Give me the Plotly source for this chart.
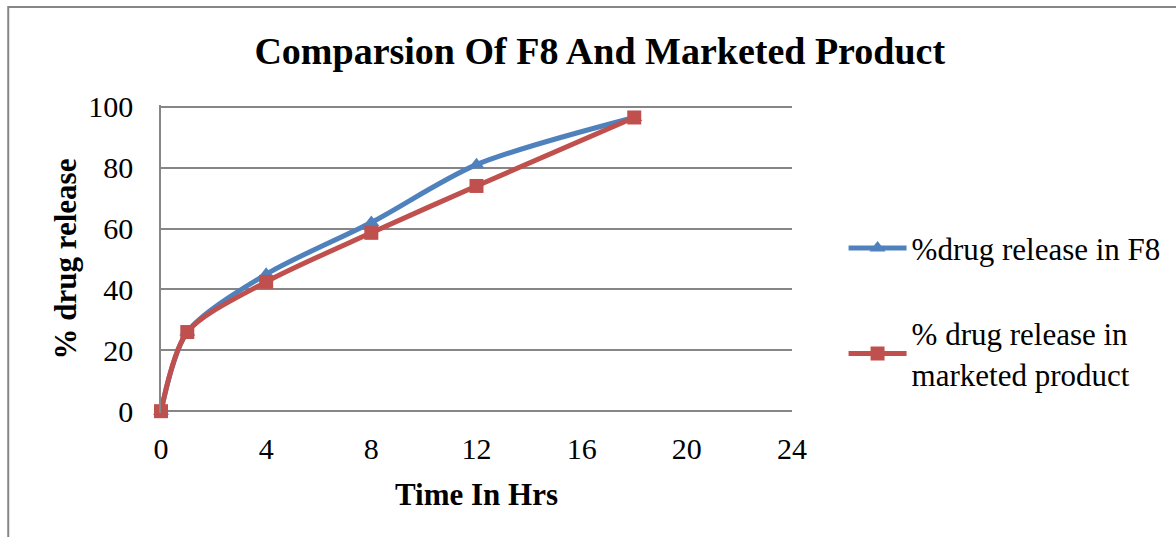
import plotly.graph_objects as go

# Dissolution time points (hours) and cumulative % drug release
time_hrs = [0, 1, 4, 8, 12, 18]
release_f8 = [0, 26, 45, 62, 81, 96.5]
release_marketed = [0, 26, 42.5, 58.6, 74, 96.5]

x_ticks = [0, 4, 8, 12, 16, 20, 24]
y_ticks = [0, 20, 40, 60, 80, 100]

BLUE = "#4F81BD"
RED = "#C0504D"
GRID = "#868686"
SERIF = "Liberation Serif, Times New Roman, serif"

fig = go.Figure()
fig.add_trace(go.Scatter(
    x=time_hrs, y=release_f8, mode="lines+markers",
    name="%drug release in F8", legendgroup="f8", cliponaxis=False,
    line=dict(color=BLUE, width=5, shape="spline", smoothing=0.8),
    marker=dict(symbol="triangle-up", size=14, color=BLUE),
))
fig.add_trace(go.Scatter(
    x=time_hrs, y=release_marketed, mode="lines+markers",
    name="% drug release in<br>marketed product", legendgroup="mk", cliponaxis=False,
    line=dict(color=RED, width=5, shape="spline", smoothing=0.8),
    marker=dict(symbol="square", size=14, color=RED),
))

fig.update_layout(
    width=1176, height=537,
    margin=dict(l=161, r=383, t=105, b=124),
    paper_bgcolor="white", plot_bgcolor="white",
    font=dict(family=SERIF, size=30, color="black"),
    title=dict(
        text="<b>Comparsion Of F8 And Marketed Product</b>",
        font=dict(family=SERIF, size=38, color="black"),
        x=0.51, xanchor="center", y=0.905, yanchor="middle",
    ),
    xaxis=dict(
        range=[0, 24], tickvals=x_ticks, showgrid=False, zeroline=False,
        showline=False, ticks="", ticklabelstandoff=15,
        tickfont=dict(size=30),
        title=dict(text="<b>Time In Hrs</b>", font=dict(size=31), standoff=19),
    ),
    yaxis=dict(
        range=[-0.6, 100.6], tickvals=y_ticks, showgrid=True, gridcolor=GRID,
        gridwidth=1.5, zeroline=False, showline=True, linecolor=GRID,
        linewidth=1.5, ticks="", ticklabelstandoff=20,
        tickfont=dict(size=30),
        title=dict(text="<b>% drug release</b>", font=dict(size=31), standoff=2),
    ),
    legend=dict(
        x=1.08, xanchor="left", y=0.622, yanchor="top",
        font=dict(family=SERIF, size=31), itemwidth=58,
        tracegroupgap=42, bgcolor="rgba(0,0,0,0)",
    ),
    showlegend=True,
)

# Outer chart frame
fig.add_shape(
    type="rect", xref="paper", yref="paper",
    x0=(8 - 161) / 632, x1=1.8, y0=-1.0, y1=(413 - 7) / 308,
    line=dict(color=GRID, width=2), fillcolor="rgba(0,0,0,0)", layer="below",
)

fig.write_html("out.html")
